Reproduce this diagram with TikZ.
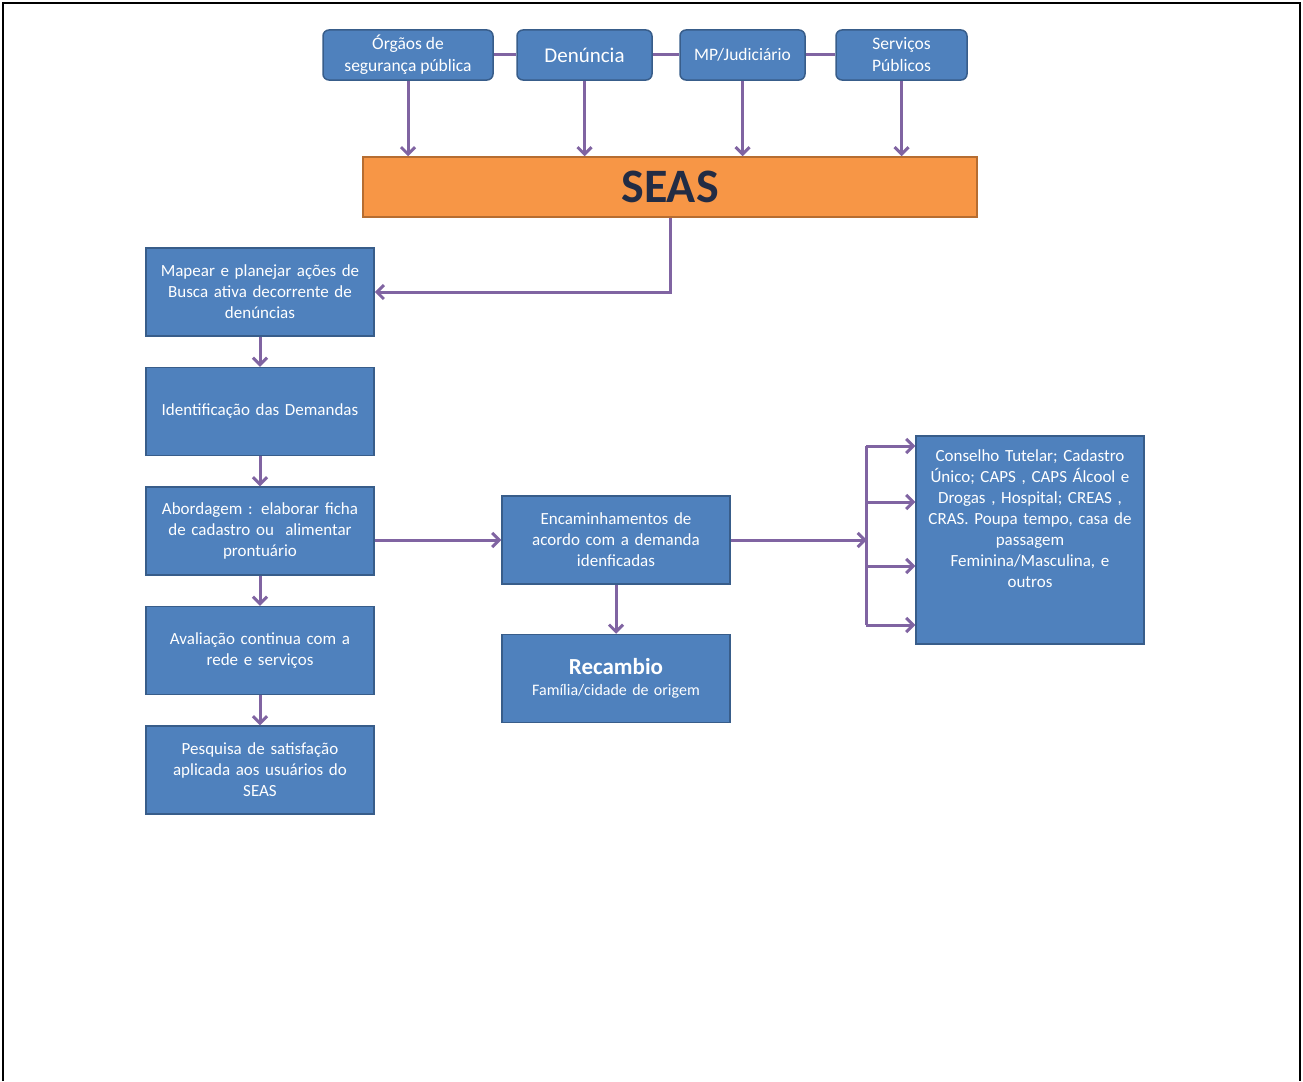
\documentclass[tikz,border=0pt]{standalone}
\usepackage{fontspec}
\setmainfont{Carlito}
\usetikzlibrary{arrows.meta}
\usetikzlibrary{calc}
\usetikzlibrary{positioning}

\definecolor{boxblue}{HTML}{4F81BD}
\definecolor{boxline}{HTML}{385D8A}
\definecolor{linkpurple}{HTML}{8064A2}
\definecolor{seasorange}{HTML}{F79646}
\definecolor{seasline}{HTML}{B66D31}
\definecolor{seastext}{HTML}{222C44}

\begin{document}
\begin{tikzpicture}[x=1pt,y=-1pt,>={Straight Barb[length=7pt,width=14pt]},node distance=30pt]
 \tikzstyle{topbox}=[draw=boxline, fill=boxblue, rounded corners=6pt, line width=1.5pt, text=white, align=center, minimum height=50pt, inner sep=2pt, font=\fontsize{17.5}{22}\selectfont]
 \tikzstyle{stepbox}=[draw=boxline, fill=boxblue, line width=1.5pt, text=white, align=center, text width=222pt, minimum width=228pt, minimum height=88pt, inner sep=0pt, font=\fontsize{17}{21}\selectfont]
 \tikzstyle{link}=[draw=linkpurple, line width=3pt]

 \useasboundingbox (0,0) rectangle (1303,1081);
 \draw[line width=2pt] (3,1081) -- (3,3) -- (1300,3) -- (1300,1081);

 % origem das demandas
 \node[topbox, minimum width=170pt] (org)  at (408,55)   {Órgãos de\\segurança pública};
 \node[topbox, minimum width=135pt, font=\fontsize{21}{22}\selectfont] (den) at (584.5,55) {Denúncia};
 \node[topbox, minimum width=125pt] (mp)   at (742.5,55) {MP/Judiciário};
 \node[topbox, minimum width=131pt] (serv) at (901.5,55) {Serviços\\Públicos};
 \draw[link] (org) -- (den) -- (mp) -- (serv);

 \node[draw=seasline, fill=seasorange, line width=1.5pt, minimum width=614pt, minimum height=60pt,
       text=seastext, font=\fontsize{48}{48}\selectfont\bfseries] (seas) at (670,187) {SEAS};
 \foreach \n in {org,den,mp,serv}
   \draw[link,->] (\n.south) -- (\n.south |- seas.north);

 % fluxo do atendimento
 \node[stepbox] (mapear) at (260,292) {Mapear e planejar ações de\\Busca ativa decorrente de\\denúncias};
 \node[stepbox] (ident) [below=of mapear] {Identificação das Demandas};
 \node[stepbox] (abord) [below=of ident] {Abordagem : elaborar ficha\\de cadastro ou \ alimentar\\prontuário};
 \node[stepbox] (aval)  [below=of abord] {Avaliação continua com a\\rede e serviços};
 \node[stepbox] (pesq)  [below=of aval] {Pesquisa de satisfação\\aplicada aos usuários do\\SEAS};

 \draw[link,->] (seas.south) |- (mapear.east);
 \draw[link,->] (mapear) -- (ident);
 \draw[link,->] (ident) -- (abord);
 \draw[link,->] (abord) -- (aval);
 \draw[link,->] (aval) -- (pesq);

 % encaminhamentos
 \node[stepbox] (enc) at (616,540) {Encaminhamentos de\\acordo com a demanda\\idenficadas};
 \node[stepbox, font=\fontsize{16}{21}\selectfont] (recamb) [below=49pt of enc] {{\fontsize{23}{26}\selectfont\bfseries Recambio}\\Família/cidade de origem};
 \node[stepbox, minimum height=208pt] (rede) at (1030,540)
   {Conselho Tutelar; Cadastro\\Único; CAPS , CAPS Álcool e\\Drogas , Hospital; CREAS ,\\CRAS. Poupa tempo, casa de\\passagem\\Feminina/Masculina, e\\outros\\~\\~};

 \draw[link,->] (enc.west -| abord.east) -- (enc.west);
 \draw[link,->] (enc) -- (recamb);

 \coordinate (ramo) at ($(enc.east)+(136,0)$);
 \draw[link,->] (enc.east) -- (ramo);
 \coordinate (r1) at (866,446);
 \coordinate (r4) at (866,625);
 \draw[link] (r1) -- (r4);
 \foreach \y in {446,502,566,625}
   \draw[link,->] (866,\y) -- (rede.west |- 0,\y);
\end{tikzpicture}
\end{document}
